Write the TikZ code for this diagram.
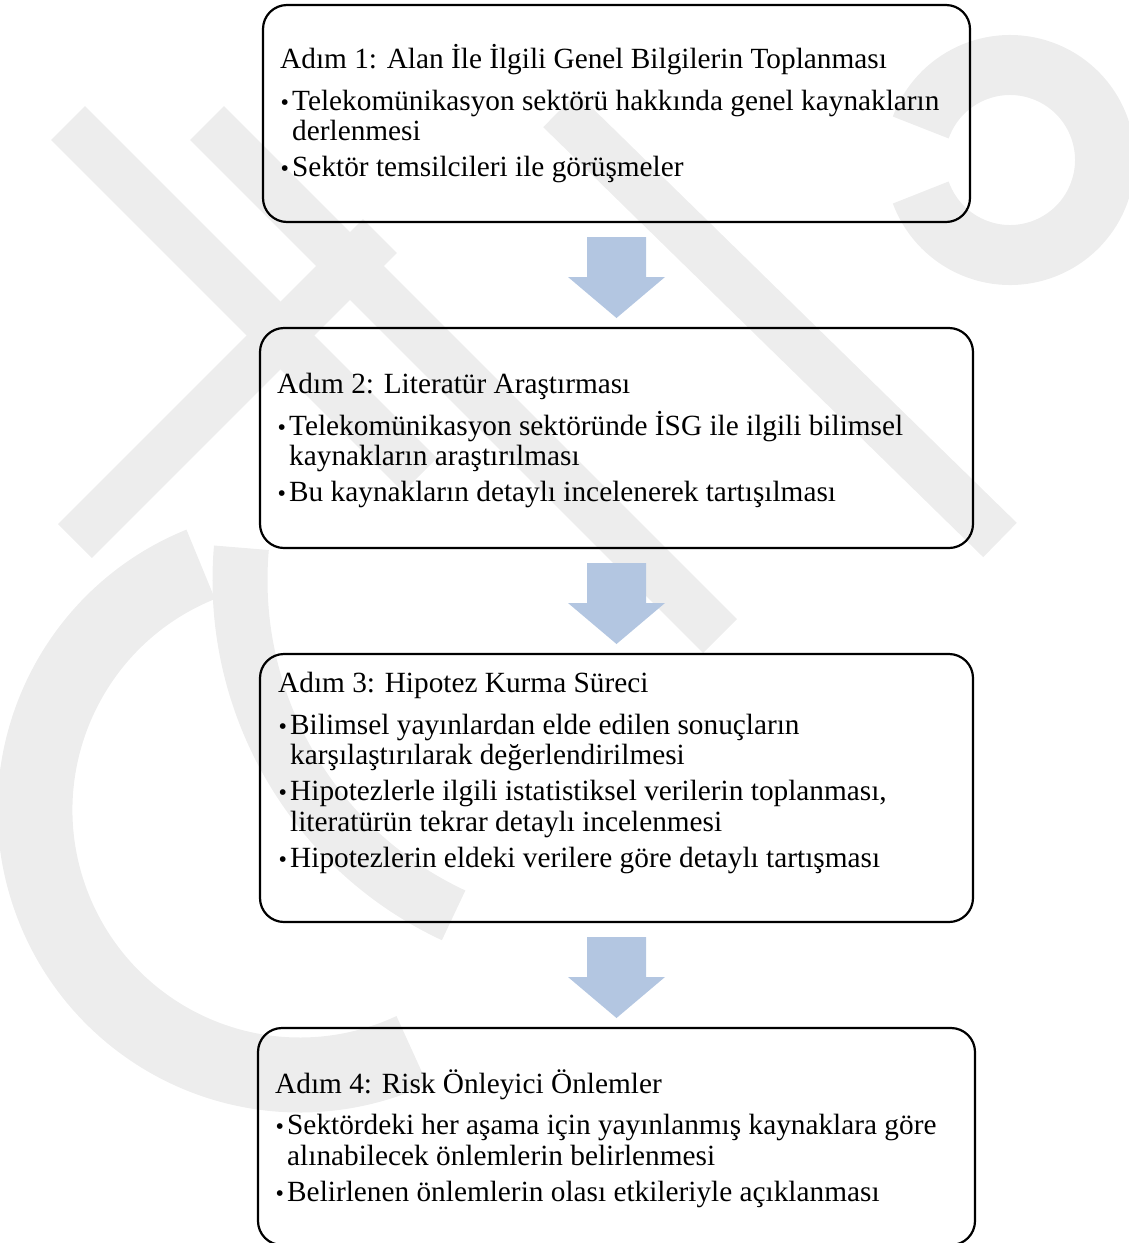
\documentclass[tikz,border=0pt]{standalone}
\usepackage{fontspec}
\setmainfont{Liberation Serif}
\usetikzlibrary{positioning}

\definecolor{arrowblue}{HTML}{B3C6E1}
\definecolor{wmgray}{HTML}{EDEDED}

\newcommand{\stepfont}{\fontsize{29.3}{30.5}\selectfont\setlength{\lineskiplimit}{-30pt}}
\newcommand{\itm}{\makebox[12pt][l]{\hspace*{0.5pt}{\fontsize{24}{24}\selectfont\textbullet}}}
\newcommand{\ind}{\hspace*{12pt}}
\newcommand{\firstline}{\rule{0pt}{28pt}}
\newcommand{\steparrow}[2]{%
  \fill[flowarrow] ([xshift=-29.5pt,yshift=-15pt]#1.south) -- ([xshift=29.5pt,yshift=-15pt]#1.south)
    -- ([xshift=29.5pt,yshift=-55pt]#1.south) -- ([xshift=48.5pt,yshift=-55pt]#1.south)
    -- ([yshift=10pt]#2.north) -- ([xshift=-48.5pt,yshift=-55pt]#1.south)
    -- ([xshift=-29.5pt,yshift=-55pt]#1.south) -- cycle;}

\tikzset{
  stepbox/.style={draw, line width=2.2pt, rounded corners=24pt, inner sep=0pt, outer sep=0pt},
  steptext/.style={anchor=north west, align=left, inner sep=0pt, font=\stepfont},
  flowarrow/.style={fill=arrowblue},
  mark band/.style={draw=wmgray, line width=48pt}
}

\begin{document}
\begin{tikzpicture}[x=1pt, y=1pt, node distance=106pt]
  \useasboundingbox (0,0) rectangle (1129,-1243);

  % faint background mark
  \draw[mark band] (68,-123) -- (420,-475);
  \draw[mark band] (207,-123) -- (720,-636);
  \draw[mark band] (560,-110) -- (1000,-540);
  \draw[mark band] (75,-541) -- (380,-236);
  \draw[mark band, line width=55pt] (610,-580) ++(175:370) arc[start angle=175, end angle=245, radius=370];
  \draw[mark band, line width=75pt] (300,-810) ++(112:265) arc[start angle=112, end angle=295, radius=265];
  \draw[mark band, line width=60pt] (1010,-160) ++(160:95) arc[start angle=160, end angle=-160, radius=95];

  % steps
  \node[stepbox, minimum width=707pt, minimum height=217pt] (box1) at (616.5,-113.5) {};
  \node[stepbox, minimum width=713pt, minimum height=220pt, below=of box1] (box2) {};
  \node[stepbox, minimum width=713pt, minimum height=268pt, below=of box2] (box3) {};
  \node[stepbox, minimum width=717pt, minimum height=217pt, below=of box3] (box4) {};

  \node[steptext] (txt1) at ([xshift=17pt,yshift=-35.5pt]box1.north west)
    {\firstline Adım 1: Alan İle İlgili Genel Bilgilerin Toplanması\\[11pt]
     \itm Telekomünikasyon sektörü hakkında genel kaynakların\\
     \ind derlenmesi\\[5.5pt]
     \itm Sektör temsilcileri ile görüşmeler};
  \node[steptext] (txt2) at ([xshift=17pt,yshift=-37.5pt]box2.north west)
    {\firstline Adım 2: Literatür Araştırması\\[11pt]
     \itm Telekomünikasyon sektöründe İSG ile ilgili bilimsel\\
     \ind kaynakların araştırılması\\[5.5pt]
     \itm Bu kaynakların detaylı incelenerek tartışılması};
  \node[steptext] (txt3) at ([xshift=18pt,yshift=-10.7pt]box3.north west)
    {\firstline Adım 3: Hipotez Kurma Süreci\\[11pt]
     \itm Bilimsel yayınlardan elde edilen sonuçların\\
     \ind karşılaştırılarak değerlendirilmesi\\[5.5pt]
     \itm Hipotezlerle ilgili istatistiksel verilerin toplanması,\\
     \ind literatürün tekrar detaylı incelenmesi\\[5.5pt]
     \itm Hipotezlerin eldeki verilere göre detaylı tartışması};
  \node[steptext] (txt4) at ([xshift=17pt,yshift=-37pt]box4.north west)
    {\firstline Adım 4: Risk Önleyici Önlemler\\[11pt]
     \itm Sektördeki her aşama için yayınlanmış kaynaklara göre\\
     \ind alınabilecek önlemlerin belirlenmesi\\[5.5pt]
     \itm Belirlenen önlemlerin olası etkileriyle açıklanması};

  \steparrow{box1}{box2}
  \steparrow{box2}{box3}
  \steparrow{box3}{box4}
\end{tikzpicture}
\end{document}
